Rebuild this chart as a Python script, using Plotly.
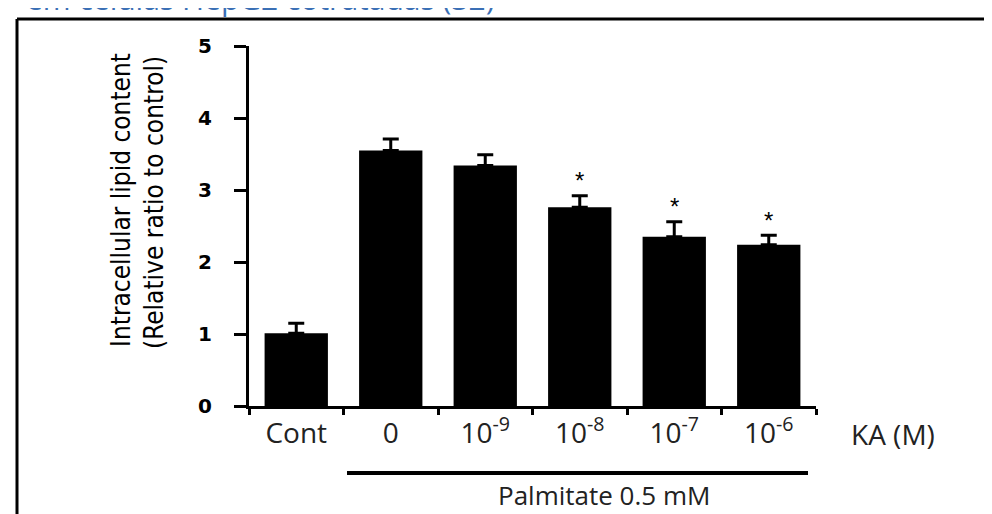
import plotly.graph_objects as go

categories = ["Cont", "KA 0", "KA 1e-9", "KA 1e-8", "KA 1e-7", "KA 1e-6"]
tick_labels = ["Cont", "0", "10<sup>-9</sup>", "10<sup>-8</sup>", "10<sup>-7</sup>", "10<sup>-6</sup>"]
values = [1.01, 3.55, 3.34, 2.76, 2.35, 2.24]
errors = [0.14, 0.16, 0.15, 0.16, 0.21, 0.13]
significant = [False, False, False, True, True, True]
y_ticks = [0, 1, 2, 3, 4, 5]

W, H = 992, 514
L, R, T, B = 241, 808, 38, 398

def px(x):
    return (x - L) / (R - L)

def py(y):
    return (B - y) / (B - T)

fig = go.Figure()
fig.add_trace(go.Bar(
    x=categories, y=values, width=0.67,
    marker=dict(color="black", line=dict(color="black", width=0)),
    error_y=dict(type="data", array=errors, arrayminus=[0] * len(errors),
                 symmetric=False, color="black", thickness=3, width=8),
    showlegend=False,
))

for i, (v, e, s) in enumerate(zip(values, errors, significant)):
    if s:
        fig.add_annotation(x=i, y=v + e, yshift=15, text="*", showarrow=False,
                           font=dict(size=24, color="black", family="Liberation Sans"),
                           xref="x", yref="y")

tick_font = dict(size=28, color="#222", family="Open Sans")

fig.update_layout(
    width=W, height=H,
    margin=dict(l=L, r=W - R, t=T, b=H - B, pad=0),
    paper_bgcolor="white", plot_bgcolor="white",
    xaxis=dict(
        type="category", categoryorder="array", categoryarray=categories,
        tickmode="array", tickvals=categories, ticktext=tick_labels,
        tickson="boundaries", ticks="outside", ticklen=6, tickwidth=3, tickcolor="black",
        showline=True, linecolor="black", linewidth=3,
        showgrid=False, zeroline=False, range=[-0.5, 5.5],
        tickfont=tick_font, ticklabelstandoff=0,
    ),
    yaxis=dict(
        range=[0, 5], tickvals=y_ticks, ticks="outside", ticklen=12, tickwidth=3,
        tickcolor="black", showline=True, linecolor="black", linewidth=3,
        showgrid=False, zeroline=False, ticklabelstandoff=18,
        tickfont=dict(size=20, color="black", family="DejaVu Sans", weight="bold"),
    ),
)

title_font = dict(size=26, color="black",
                  family="DejaVu Sans Condensed, Liberation Sans Narrow, Liberation Sans")
fig.add_annotation(x=px(113), y=py(192), xref="paper", yref="paper",
                   xanchor="center", yanchor="middle",
                   text="Intracellular lipid content", textangle=-90, showarrow=False,
                   font=title_font)
fig.add_annotation(x=px(146), y=py(195), xref="paper", yref="paper",
                   xanchor="center", yanchor="middle",
                   text="(Relative ratio to control)", textangle=-90, showarrow=False,
                   font=title_font)

# KA (M)
fig.add_annotation(x=px(885), y=py(426), xref="paper", yref="paper",
                   xanchor="center", yanchor="middle",
                   text="KA (M)", showarrow=False, font=tick_font)

# Palmitate bracket
fig.add_shape(type="line", xref="paper", yref="paper",
              x0=px(339), x1=px(800), y0=py(465), y1=py(465),
              line=dict(color="black", width=4))
fig.add_annotation(x=px(596), y=py(487), xref="paper", yref="paper",
                   xanchor="center", yanchor="middle",
                   text="Palmitate 0.5 mM", showarrow=False,
                   font=dict(size=26, color="#222", family="Open Sans"))

# outer frame (top and left)
fig.add_shape(type="line", xref="paper", yref="paper",
              x0=px(9), x1=px(995), y0=py(11), y1=py(11),
              line=dict(color="black", width=3))
fig.add_shape(type="line", xref="paper", yref="paper",
              x0=px(9), x1=px(9), y0=py(11), y1=py(520),
              line=dict(color="black", width=3))

# cropped caption at top
fig.add_annotation(x=px(16), y=py(-10), xref="paper", yref="paper",
                   xanchor="left", yanchor="middle",
                   text="em células HepG2 cotratadas (32)", showarrow=False,
                   font=dict(size=30, color="#3a6fb5", family="Open Sans"))

fig.write_html("out.html")
